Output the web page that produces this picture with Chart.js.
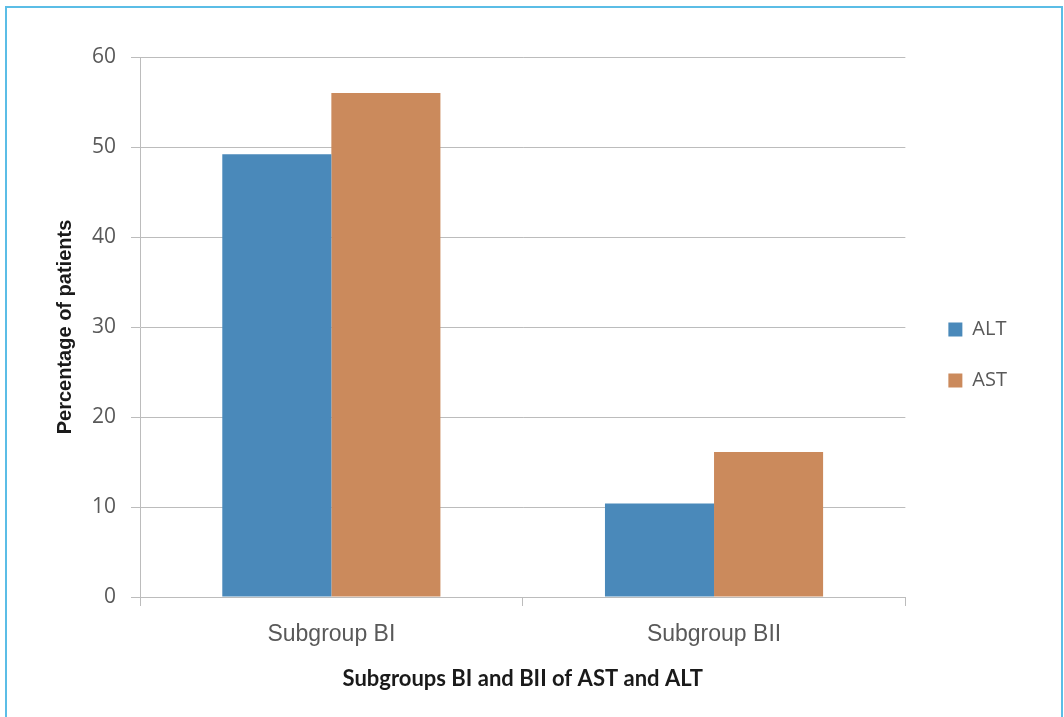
<!DOCTYPE html>
<html>
<head>
<meta charset="utf-8">
<script src="https://cdn.jsdelivr.net/npm/chart.js@4.4.1/dist/chart.umd.min.js"></script>
<style>
    body { margin: 0; background: #fff; }
    .frame { position: absolute; left: 5px; top: 6px; width: 1054px; height: 720px; border: 2px solid #5bbde6; }
    .chart1 { position: absolute; left: 7px; top: 8px; }
</style>
</head>
<body>
<div class="frame"></div>
<canvas class="chart1" width="1054" height="709"></canvas>
<script>
const labels = ['Subgroup BI', 'Subgroup BII'];
const altValues = [49.2, 10.4];
const astValues = [56, 16.1];
const yTicks = [0, 10, 20, 30, 40, 50, 60];

const axisGrey = '#bcbcbc';
const tickGrey = '#595959';

const data = {
    labels: labels,
    datasets: [{
        label: 'ALT',
        backgroundColor: 'rgb(74, 137, 186)',
        data: altValues,
    }, {
        label: 'AST',
        backgroundColor: 'rgb(203, 138, 92)',
        data: astValues,
    }]
};

const config = {
    type: 'bar',
    data: data,
    options: {
        responsive: false,
        animation: false,
        barPercentage: 1,
        categoryPercentage: 0.57,
        layout: { padding: { top: 10, left: 10, right: 44, bottom: 25 } },
        plugins: {
            // empty title only reserves room above the plot
            title: { display: true, text: '', font: { size: 10 }, padding: { top: 0, bottom: 27 } },
            tooltip: { enabled: false },
            legend: {
                position: 'right',
                labels: {
                    boxWidth: 14,
                    boxHeight: 14,
                    padding: 31,
                    color: tickGrey,
                    font: { family: '"Open Sans"', size: 20 },
                }
            }
        },
        scales: {
            x: {
                grid: { display: true, drawOnChartArea: false, tickLength: 9, color: axisGrey },
                border: { color: axisGrey },
                ticks: { color: tickGrey, padding: 15, font: { family: '"Liberation Sans"', size: 23 } },
                title: {
                    display: true,
                    text: 'Subgroups BI and BII of AST and ALT',
                    color: '#1a1a1a',
                    font: { family: 'Lato', size: 22, weight: 'bold' },
                    padding: { top: 2, bottom: 0 },
                }
            },
            y: {
                min: 0,
                max: 60,
                afterBuildTicks: (scale) => { scale.ticks = yTicks.map(v => ({ value: v })); },
                grid: { color: axisGrey, tickLength: 9 },
                border: { color: axisGrey },
                ticks: { color: tickGrey, padding: 15, font: { family: '"Open Sans"', size: 21 } },
                title: {
                    display: true,
                    text: 'Percentage of patients',
                    color: '#1a1a1a',
                    font: { family: '"Liberation Sans"', size: 20, weight: 'bold' },
                    padding: { top: 36, bottom: 0 },
                }
            },
            // blank axis keeps a gap between the plot and the legend
            gap: {
                position: 'right',
                display: true,
                grid: { display: false },
                border: { display: false },
                ticks: { display: false },
                afterFit: (scale) => { scale.width = 12; },
            }
        }
    }
};

const myChart = new Chart(
    document.querySelector('.chart1'),
    config
);
</script>
</body>
</html>
